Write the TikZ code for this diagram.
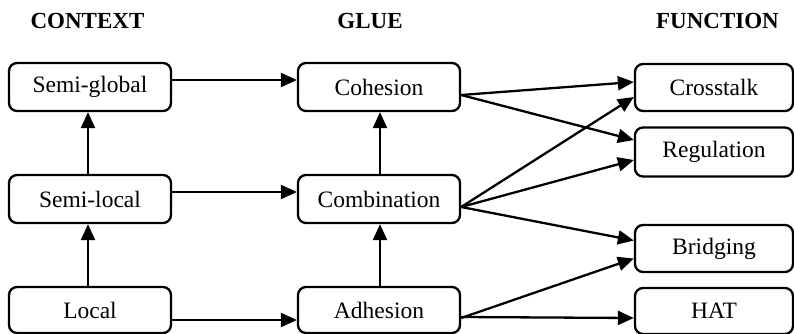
\documentclass[tikz,border=0pt]{standalone}
\usepackage{fontspec}
\setmainfont{Liberation Serif}
\usetikzlibrary{arrows.meta}
\begin{document}
\begin{tikzpicture}[x=1pt,y=-1pt,
  box/.style={draw, line width=2.3pt, rounded corners=8pt, minimum width=162pt, minimum height=48pt, inner sep=0pt, font=\fontsize{23.5}{28}\selectfont},
  rbox/.style={box, minimum width=158pt, minimum height=47pt},
  head/.style={font=\fontsize{23}{28}\selectfont\bfseries, inner sep=0pt},
  conn/.style={line width=2.3pt, -{Triangle[length=16pt,width=14pt]}}]
\useasboundingbox (0,0) rectangle (794,334);
% headers
\node[head] (hctx) at (87.5,21) {CONTEXT};
\node[head] (hglue) at (370,21) {GLUE};
\node[head] (hfun) at (717.5,21) {FUNCTION};
% context
\node[box] (sg) at (90,87) {Semi-global};
\node[box] (sl) at (90,199) {Semi-local};
\node[box, minimum height=46pt] (lo) at (90,310) {Local};
% glue
\node[box] (coh) at (379,87) {Cohesion};
\node[box] (comb) at (379,199) {Combination};
\node[box, minimum height=46pt] (adh) at (379,310) {Adhesion};
% function
\node[rbox] (cross) at (714,87.5) {Crosstalk};
\node[rbox, minimum height=49pt] (reg) at (714,152) {Regulation};
\node[rbox] (bri) at (714,248.5) {Bridging};
\node[rbox, minimum height=46pt] (hat) at (714,311) {HAT};
% vertical
\draw[conn] ([xshift=-2pt]lo.north) -- ([xshift=-2pt]sl.south);
\draw[conn] ([xshift=-2pt]sl.north) -- ([xshift=-2pt]sg.south);
\draw[conn] ([xshift=1pt]adh.north) -- ([xshift=1pt]comb.south);
\draw[conn] ([xshift=1pt]comb.north) -- ([xshift=1pt]coh.south);
% horizontal
\draw[conn] ([yshift=7pt]sg.east) -- ([yshift=7pt]coh.west);
\draw[conn] ([yshift=7pt]sl.east) -- ([yshift=7pt]comb.west);
\draw[conn] ([yshift=-10pt]lo.east) -- ([yshift=-10pt]adh.west);
% to function
\draw[conn] ([yshift=-8pt]coh.east) -- ([yshift=5.5pt]cross.west);
\draw[conn] ([yshift=-8pt]coh.east) -- ([yshift=12pt]reg.west);
\draw[conn] ([yshift=-8pt]comb.east) -- ([yshift=-9.5pt]cross.west);
\draw[conn] ([yshift=-8pt]comb.east) -- ([yshift=-8pt]reg.west);
\draw[conn] ([yshift=-8pt]comb.east) -- ([yshift=8pt]bri.west);
\draw[conn] ([yshift=-8pt]adh.east) -- ([yshift=-10pt]bri.west);
\draw[conn] ([yshift=-7pt]adh.east) -- ([yshift=-7pt]hat.west);
\end{tikzpicture}
\end{document}
